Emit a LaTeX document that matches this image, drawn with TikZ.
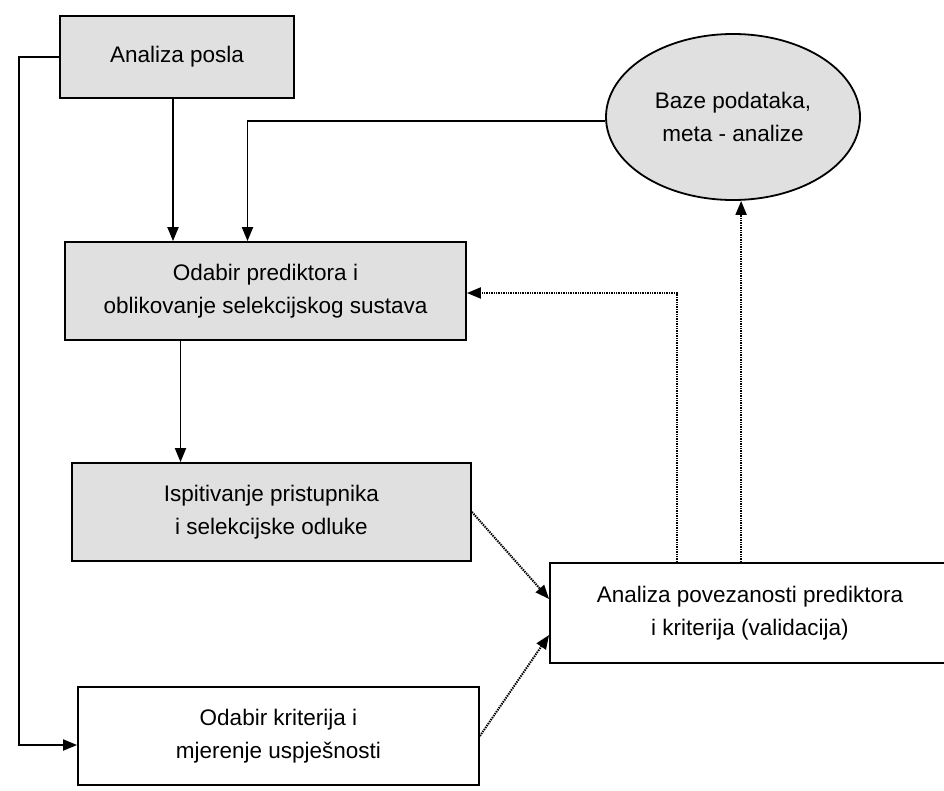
\documentclass[tikz,border=0pt]{standalone}
\usepackage{fontspec}
\setmainfont{Liberation Sans}
\usetikzlibrary{arrows.meta,calc,shapes.geometric}
\begin{document}
\begin{tikzpicture}[x=1pt,y=-1pt,
  every node/.style={font=\fontsize{22.5}{33}\selectfont, align=center, inner sep=0pt},
  shaded/.style={draw=black, line width=1.8pt, fill=black!12},
  plain/.style={draw=black, line width=1.8pt, fill=white},
  arr/.style={line width=1.9pt, -{Triangle[length=14pt,width=11pt]}},
  darr/.style={line width=2pt, dash pattern=on 1.4pt off 1pt, -{Triangle[length=14pt,width=11pt]}}]
\useasboundingbox (0,0) rectangle (944,790);
\clip (0,0) rectangle (944,790);
\node[shaded, rectangle, minimum width=234pt, minimum height=82pt] (A) at (177,57) {Analiza posla};
\node[shaded, rectangle, minimum width=401pt, minimum height=98pt] (B) at (265.5,291) {Odabir prediktora i\\oblikovanje selekcijskog sustava};
\node[shaded, rectangle, minimum width=399pt, minimum height=98pt] (C) at (271.5,512) {Ispitivanje pristupnika\\i selekcijske odluke};
\node[plain, rectangle, minimum width=401pt, minimum height=98pt] (D) at (278.5,736) {Odabir kriterija i\\mjerenje uspješnosti};
\node[plain, rectangle, minimum width=400pt, minimum height=100pt] (E) at (750,613) {Analiza povezanosti prediktora\\i kriterija (validacija)};
\node[shaded, ellipse, minimum width=254pt, minimum height=166pt] (F) at (733,117) {Baze podataka,\\meta - analize};
\coordinate (E1) at ($(E.north west)+(128,0)$);
\coordinate (E2) at ($(E.north west)+(192,0)$);
% solid connectors
\draw[arr] ([xshift=-4pt]A.south) -- ([xshift=-4pt]A.south |- B.north);
\draw[arr] ([yshift=-4pt]F.west) -| ([xshift=-18pt]B.north);
\draw[arr] (A.west) -- ++(-40,0) |- ($(D.west)+(0,9)$);
\draw[arr] ([xshift=-85pt]B.south) -- ([xshift=-85pt]B.south |- C.north);
% dotted connectors
\draw[darr] (C.east) -- ($(E.west)+(0,-14)$);
\draw[darr] (D.east) -- ($(E.west)+(0,22)$);
\draw[darr] (E1) |- ([yshift=-2pt]B.east);
\draw[darr] (E2) -- (E2 |- F.south);
\end{tikzpicture}
\end{document}
